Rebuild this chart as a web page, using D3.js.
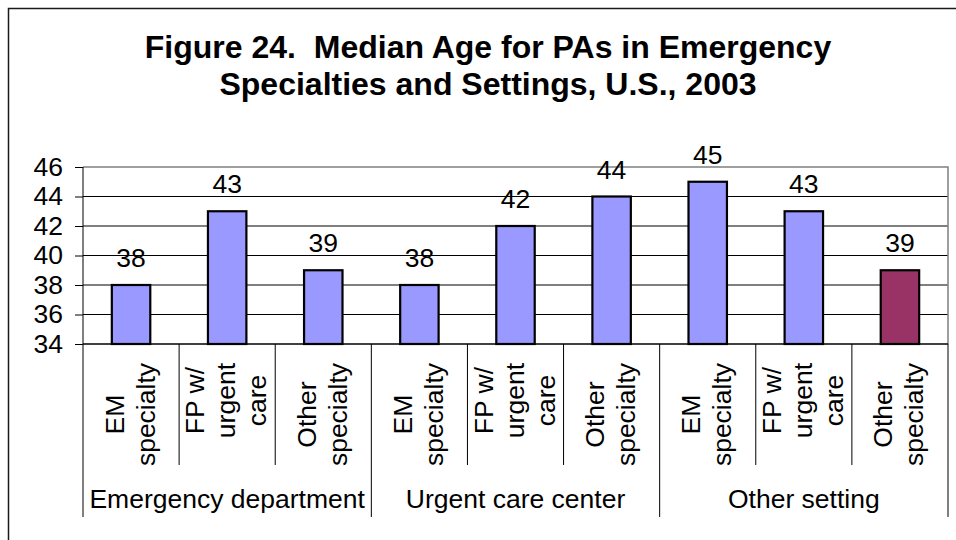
<!DOCTYPE html>
<html>
<head>
<meta charset="utf-8">
<script src="https://cdn.jsdelivr.net/npm/d3@7"></script>
<style>
  html, body { margin: 0; padding: 0; background: #fff; }
  svg { display: block; }
  text { font-family: "Liberation Sans", Arial, sans-serif; fill: #000; }
</style>
</head>
<body>
<svg id="chart" width="956" height="540"></svg>
<script>
// ---- data ----
const titleLines = ["Figure 24.  Median Age for PAs in Emergency", "Specialties and Settings, U.S., 2003"];
const groups = ["Emergency department", "Urgent care center", "Other setting"];
const specialties = [["EM", "specialty"], ["FP w/", "urgent", "care"], ["Other", "specialty"]];
const values = [38, 43, 39, 38, 42, 44, 45, 43, 39];
const highlightIndex = [8];
const yTicks = [34, 36, 38, 40, 42, 44, 46];

// ---- layout ----
const svg = d3.select("#chart");
const plot = { left: 83, right: 948, top: 167, bottom: 344 };
const colorMain = "#9999FF", colorHi = "#993366";
const fs = "26.5px";

// outer chart border
svg.append("rect").attr("x", 8.5).attr("y", 8.5).attr("width", 1000).attr("height", 600)
  .attr("fill", "#fff").attr("stroke", "#1a1a1a").attr("stroke-width", 1.5);

// title
svg.append("g").selectAll("text").data(titleLines).join("text")
  .attr("x", 488).attr("y", (d, i) => 58 + i * 37)
  .attr("text-anchor", "middle")
  .style("font-size", "32px").style("font-weight", "bold").style("white-space", "pre")
  .text(d => d);

const cats = [];
groups.forEach((g, gi) => specialties.forEach((s, si) => cats.push({ g: gi, lines: s, idx: gi * specialties.length + si })));

const x = d3.scaleBand().domain(cats.map(c => c.idx)).range([plot.left, plot.right]).padding(0);
const y = d3.scaleLinear().domain([34, 46]).range([plot.bottom, plot.top]);
const gx = d3.scaleBand().domain(groups.map((g, i) => i)).range([plot.left, plot.right]).padding(0);

// gridlines
svg.append("g").selectAll("line").data(yTicks.slice(1, -1)).join("line")
  .attr("x1", plot.left).attr("x2", plot.right)
  .attr("y1", d => y(d)).attr("y2", d => y(d))
  .attr("stroke", "#000").attr("stroke-width", 1);

// plot border top/right grey
svg.append("path")
  .attr("d", `M${plot.left},${y(46)}H${plot.right}V${plot.bottom}`)
  .attr("fill", "none").attr("stroke", "#808080").attr("stroke-width", 1.5);

// bars
const bw = x.bandwidth() * 0.4;
svg.append("g").selectAll("rect").data(cats).join("rect")
  .attr("x", d => x(d.idx) + (x.bandwidth() - bw) / 2)
  .attr("y", d => y(values[d.idx]))
  .attr("width", bw)
  .attr("height", d => y(34) - y(values[d.idx]))
  .attr("fill", d => highlightIndex.includes(d.idx) ? colorHi : colorMain)
  .attr("stroke", "#000").attr("stroke-width", 2.2);

// data labels
svg.append("g").selectAll("text").data(cats).join("text")
  .attr("x", d => x(d.idx) + x.bandwidth() / 2)
  .attr("y", d => y(values[d.idx]) - 18)
  .attr("text-anchor", "middle").style("font-size", fs)
  .text(d => values[d.idx]);

// y axis
const yAxis = d3.axisLeft(y).tickValues(yTicks).tickSize(8).tickPadding(12).tickFormat(d3.format("d"));
const ya = svg.append("g").attr("transform", `translate(${plot.left},0)`).call(yAxis);
ya.select(".domain").remove();
ya.selectAll(".tick line").attr("stroke", "#000");
ya.selectAll(".tick text").style("font-size", fs).attr("fill", "#000");
ya.attr("font-family", null).attr("font-size", null);

// left axis line extended to bottom of group labels
svg.append("line").attr("x1", plot.left).attr("x2", plot.left).attr("y1", plot.top).attr("y2", 517)
  .attr("stroke", "#000").attr("stroke-width", 1);
// bottom axis line
svg.append("line").attr("x1", plot.left).attr("x2", plot.right).attr("y1", plot.bottom).attr("y2", plot.bottom)
  .attr("stroke", "#000").attr("stroke-width", 1.5);

// category dividers (within groups)
svg.append("g").selectAll("line").data(cats.filter(c => c.idx % specialties.length !== 0)).join("line")
  .attr("x1", d => x(d.idx)).attr("x2", d => x(d.idx))
  .attr("y1", plot.bottom).attr("y2", 465)
  .attr("stroke", "#000").attr("stroke-width", 1);
// group dividers
svg.append("g").selectAll("line").data(d3.range(1, groups.length + 1)).join("line")
  .attr("x1", d => d < groups.length ? gx(d) : plot.right).attr("x2", d => d < groups.length ? gx(d) : plot.right)
  .attr("y1", plot.bottom).attr("y2", 517)
  .attr("stroke", "#000").attr("stroke-width", 1);

// category labels (rotated)
const lineGap = 31;
cats.forEach(c => {
  const cx = x(c.idx) + x.bandwidth() / 2;
  const n = c.lines.length;
  const g = svg.append("g");
  const texts = c.lines.map((ln, i) => {
    const bx = cx + (i - (n - 1) / 2) * lineGap + 8;
    return g.append("text").style("font-size", fs).attr("text-anchor", "middle").text(ln).datum(bx);
  });
  const maxW = d3.max(texts, t => t.node().getComputedTextLength());
  const cy = 363 + maxW / 2;
  texts.forEach(t => {
    const bx = t.datum();
    t.attr("transform", `translate(${bx},${cy}) rotate(-90)`);
  });
});

// group labels
svg.append("g").selectAll("text").data(groups).join("text")
  .attr("x", (d, i) => gx(i) + gx.bandwidth() / 2)
  .attr("y", 508)
  .attr("text-anchor", "middle").style("font-size", fs)
  .text(d => d);
</script>
</body>
</html>
